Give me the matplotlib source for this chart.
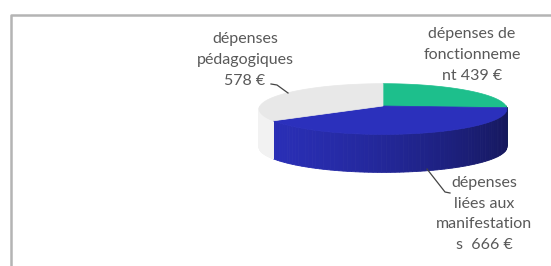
import numpy as np
import matplotlib
matplotlib.use("Agg")
import matplotlib.pyplot as plt
from matplotlib.patches import Polygon
from matplotlib.colors import to_rgb

# data
labels = ["dépenses de\nfonctionneme\nnt 439 €",
          "dépenses\nliées aux\nmanifestation\ns  666 €",
          "dépenses\npédagogiques\n578 €"]
values = [439, 666, 578]
colors = ["#1dbf8c", "#2b30bc", "#e8e8e8"]
side_colors = ["#1aa87c", "#2a2fb8", "#f2f2f2"]

# pie geometry in pixel coordinates (with a bit of perspective)
cx, cy = 383, 106
ra, rb = 123, 25
persp = 0.12
depth = 38


def ell(t):
    w = 1 + persp * np.sin(t)
    return cx + ra * np.cos(t) / w, cy - rb * np.sin(t) / w


def shade(col, t):
    # darker towards the right of the side face
    f = 1.0 - 0.5 * ((np.cos(t) + 1) / 2) ** 1.5
    return tuple(np.clip(np.array(to_rgb(col)) * f, 0, 1))


fig = plt.figure(figsize=(5.51, 2.66), dpi=100)
ax = fig.add_axes([0, 0, 1, 1])
ax.set_xlim(0, 551)
ax.set_ylim(266, 0)
ax.axis("off")

# frame
ax.plot([10.5, 10.5, 551], [266, 14.5, 14.5], color="#b4b4b4", lw=1.8,
        solid_capstyle="butt")

total = float(sum(values))
start = np.pi / 2
spans = []
for v in values:
    end = start - 2 * np.pi * v / total
    spans.append((end, start))
    start = end

# side faces (front half only)
for (a0, a1), col in zip(spans, side_colors):
    for k in range(-1, 2):
        lo = max(a0, np.pi + 2 * np.pi * k)
        hi = min(a1, 2 * np.pi + 2 * np.pi * k)
        if hi <= lo:
            continue
        ts = np.linspace(lo, hi, 80)
        for t0, t1 in zip(ts[:-1], ts[1:]):
            x0, y0 = ell(t0)
            x1, y1 = ell(t1)
            quad = [(x0, y0), (x1, y1), (x1, y1 + depth), (x0, y0 + depth)]
            c = shade(col, t0) if col != side_colors[2] else col
            ax.add_patch(Polygon(quad, closed=True, fc=c, ec=c, lw=0.6))

# top faces
for (a0, a1), col in zip(spans, colors):
    ts = np.linspace(a0, a1, 200)
    xs, ys = ell(ts)
    pts = [(cx, cy)] + list(zip(xs, ys))
    ax.add_patch(Polygon(pts, closed=True, fc=col, ec=col, lw=0.5))

# labels and leader lines
fam = ["Lato", "DejaVu Sans"]
tkw = dict(ha="center", va="center", color="#595959", fontsize=11.5,
           family=fam, linespacing=1.6)
ax.text(472, 55, labels[0], **tkw)
ax.text(484, 214, labels[1], **tkw)
ax.text(245, 60, labels[2], **tkw)

ax.plot([271, 277, 288], [84, 85, 93], color="#444444", lw=0.9)
ax.plot([427, 445, 450], [169, 192, 193], color="#444444", lw=0.9)

fig.savefig("out.png", dpi=100)
